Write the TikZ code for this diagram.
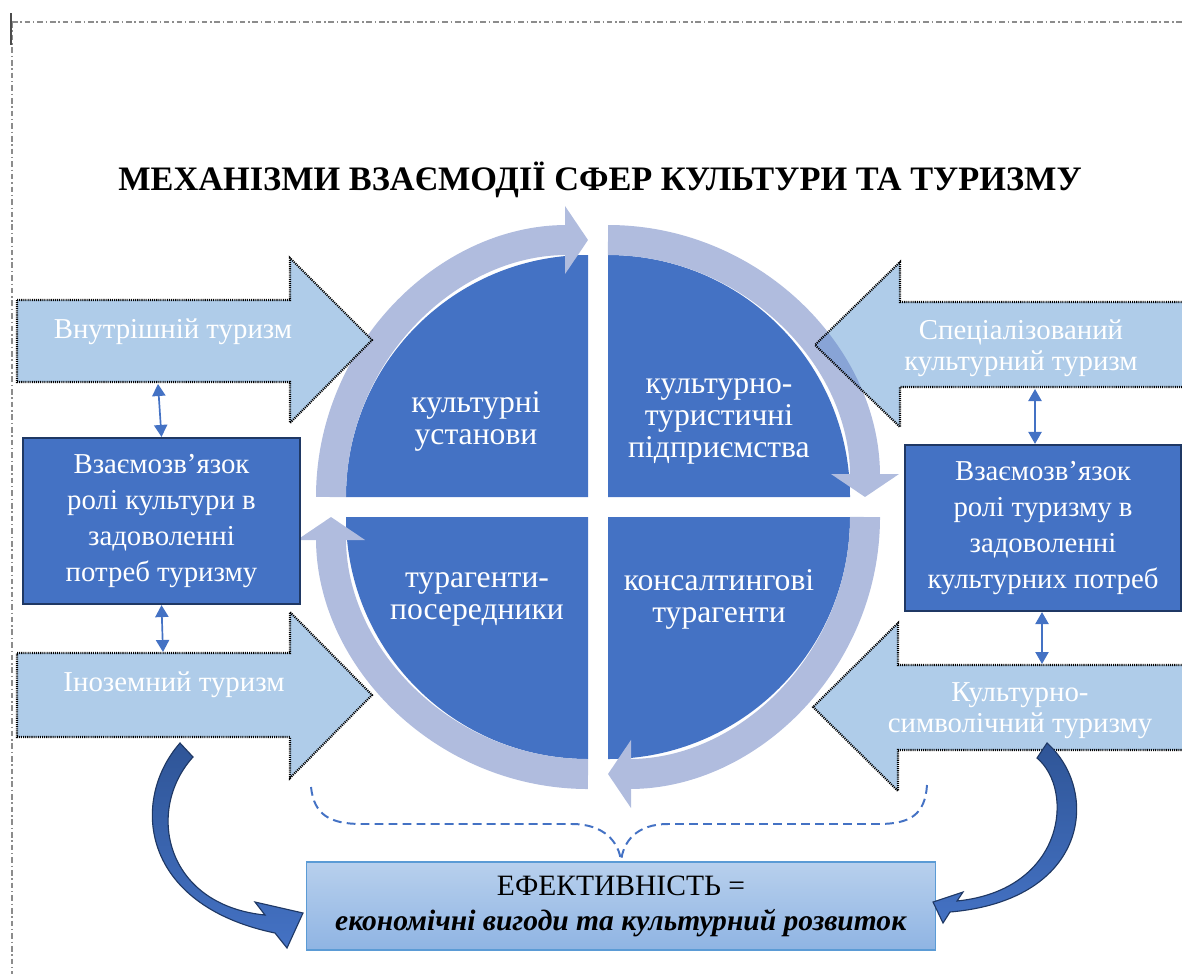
\documentclass[tikz,border=0pt]{standalone}
\usepackage{fontspec}
\setmainfont{Liberation Serif}
\usepackage{tikz}
\usetikzlibrary{arrows.meta}

\definecolor{accblue}{RGB}{68,114,196}
\definecolor{lightarr}{RGB}{175,204,233}
\definecolor{ringcol}{RGB}{176,188,222}
\definecolor{overlapcol}{RGB}{136,164,214}
\definecolor{navy}{RGB}{31,56,100}
\definecolor{darkarr}{RGB}{47,85,151}
\definecolor{efftop}{RGB}{184,208,237}
\definecolor{effbot}{RGB}{143,180,227}
\definecolor{effline}{RGB}{91,155,213}
\definecolor{margincol}{RGB}{140,140,140}

% outlines of the four wide arrows
\newcommand{\vnutpath}{(17,300) -- (290,300) -- (290,258) -- (372,340) -- (290,423) -- (290,382) -- (17,382) -- cycle}
\newcommand{\inozpath}{(17,653) -- (290,653) -- (290,612) -- (372,695) -- (290,778) -- (290,737) -- (17,737) -- cycle}
\newcommand{\specpath}{(1190,302) -- (900,302) -- (900,262) -- (815,345) -- (900,427) -- (900,387) -- (1190,387) -- cycle}
\newcommand{\ksympath}{(1190,665) -- (898,665) -- (898,623) -- (813,707) -- (898,791) -- (898,750) -- (1190,750) -- cycle}

\begin{document}
\begin{tikzpicture}[x=0.025cm,y=-0.025cm]
\tikzstyle{bigarrow}=[fill=lightarr]
\tikzstyle{dotborder}=[draw=black, line width=1.5pt, dash pattern=on 0.75pt off 0.75pt]
\tikzstyle{arrtext}=[text=white, align=center, font=\fontsize{20.5}{22}\selectfont]
\tikzstyle{linkbox}=[rectangle, fill=accblue, draw=navy, line width=1.5pt,
minimum width=6.925cm, minimum height=4.15cm, inner sep=0pt,
text=white, align=center, font=\fontsize{20.5}{25.8}\selectfont]
\tikzstyle{quad}=[fill=accblue]
\tikzstyle{quadtext}=[text=white, align=center, font=\fontsize{22.5}{22.7}\selectfont]
\tikzstyle{ring}=[line width=0.75cm, draw=ringcol, -{Triangle[width=1.675cm,length=0.575cm]}]
\tikzstyle{dbl}=[draw=accblue, fill=accblue, line width=1.2pt,
{Triangle[width=0.33cm,length=0.3cm]}-{Triangle[width=0.33cm,length=0.3cm]}]
\tikzstyle{curved}=[top color=darkarr, bottom color=accblue, draw=navy, line width=0.8pt]
\tikzstyle{brace}=[draw=accblue, line width=1.4pt, dash pattern=on 0.22cm off 0.13cm]
\tikzstyle{effbox}=[rectangle, top color=efftop, bottom color=effbot, draw=effline, line width=0.8pt,
minimum width=15.7cm, minimum height=2.2cm, inner sep=0pt,
align=center, font=\fontsize{21}{25}\selectfont]

\useasboundingbox (0,0) rectangle (1182,974);

% page margins
\draw[margincol, line width=0.8pt, dash pattern=on 4pt off 2pt on 1pt off 2pt] (12,22) -- (1182,22);
\draw[margincol, line width=0.8pt, dash pattern=on 4pt off 2pt on 1pt off 2pt] (12,22) -- (12,974);
\draw[black!70, line width=1pt] (11,13) -- (11,45);

% title
\node[anchor=base, font=\bfseries\fontsize{24.4}{28}\selectfont] (title) at (600,190)
{МЕХАНІЗМИ ВЗАЄМОДІЇ СФЕР КУЛЬТУРИ ТА ТУРИЗМУ};

% quarters of the circle
\fill[quad] (588,497) -- (346,497) arc[start angle=180, end angle=270, radius=242] -- cycle;
\fill[quad] (608,497) -- (608,255) arc[start angle=270, end angle=360, radius=242] -- cycle;
\fill[quad] (608,517) -- (850,517) arc[start angle=0, end angle=90, radius=242] -- cycle;
\fill[quad] (588,517) -- (588,759) arc[start angle=90, end angle=180, radius=242] -- cycle;

% ring of arrows
\draw[ring] (331,497) arc[start angle=180, end angle=270, radius=257];
\draw[ring] (608,240) arc[start angle=270, end angle=360, radius=257];
\draw[ring] (865,517) arc[start angle=0, end angle=90, radius=257];
\draw[ring] (588,774) arc[start angle=90, end angle=180, radius=257];

\node[quadtext] (kult) at (476,421) {культурні\\установи};
\node[quadtext] (ktp) at (719,421) {культурно-\\туристичні\\підприємства};
\node[quadtext] (tpos) at (477,599) {турагенти-\\посередники};
\node[quadtext] (kons) at (719,599) {консалтингові\\турагенти};

% wide arrows
\fill[bigarrow] \vnutpath;
\fill[bigarrow] \inozpath;
\fill[bigarrow] \specpath;
\fill[bigarrow] \ksympath;
\begin{scope}
\clip \specpath;
\draw[ring, draw=overlapcol] (608,240) arc[start angle=270, end angle=360, radius=257];
\end{scope}
\draw[dotborder] \vnutpath;
\draw[dotborder] \inozpath;
\draw[dotborder] \specpath;
\draw[dotborder] \ksympath;

\node[arrtext] (vnut) at (173,332) {Внутрішній туризм};
\node[arrtext] (inoz) at (174,685) {Іноземний туризм};
\node[arrtext] (spec) at (1021,348) {Спеціалізований\\культурний туризм};
\node[arrtext] (ksym) at (1020,711) {Культурно-\\символічний туризму};

\coordinate (vnut-s) at (158,384);
\coordinate (inoz-n) at (163,652);
\coordinate (spec-s) at (1035,389);
\coordinate (ksym-n) at (1042,664);

% boxes
\node[linkbox] (vz1) at (161.5,521) {Взаємозв’язок\\ролі культури в\\задоволенні\\потреб туризму};
\node[linkbox, minimum width=6.9cm] (vz2) at (1043,528) {Взаємозв’язок\\ролі туризму в\\задоволенні\\культурних потреб};

\draw[dbl] (vnut-s) -- (vz1.north);
\draw[dbl] (vz1.south) -- (inoz-n);
\draw[dbl] (spec-s) -- (spec-s |- vz2.north);
\draw[dbl] (ksym-n |- vz2.south) -- (ksym-n);

% result
\node[effbox] (eff) at (621,906)
{ЕФЕКТИВНІСТЬ =\\\textbf{\textit{економічні вигоди та культурний розвиток}}};

\coordinate (br-l) at (311,787);
\coordinate (br-r) at (927,785);
\draw[brace] (br-l) .. controls (314,815) and (330,824) .. (362,824) -- (572,824)
.. controls (604,824) and (619,842) .. (eff.north);
\draw[brace] (br-r) .. controls (925,815) and (910,824) .. (878,824) -- (668,824)
.. controls (636,824) and (623,842) .. (eff.north);

% curved arrows to the result
\draw[curved] (180,743) .. controls (130,800) and (140,905) .. (275,933) -- (287,948) -- (303,913)
-- (255,902) -- (265,915) .. controls (165,905) and (145,810) .. (193,757) -- cycle;
\draw[curved] (1047,743) .. controls (1100,790) and (1090,900) .. (950,912) -- (943,923) -- (933,902)
-- (963,892) -- (957,901) .. controls (1065,890) and (1075,790) .. (1037,758) -- cycle;

\end{tikzpicture}
\end{document}
